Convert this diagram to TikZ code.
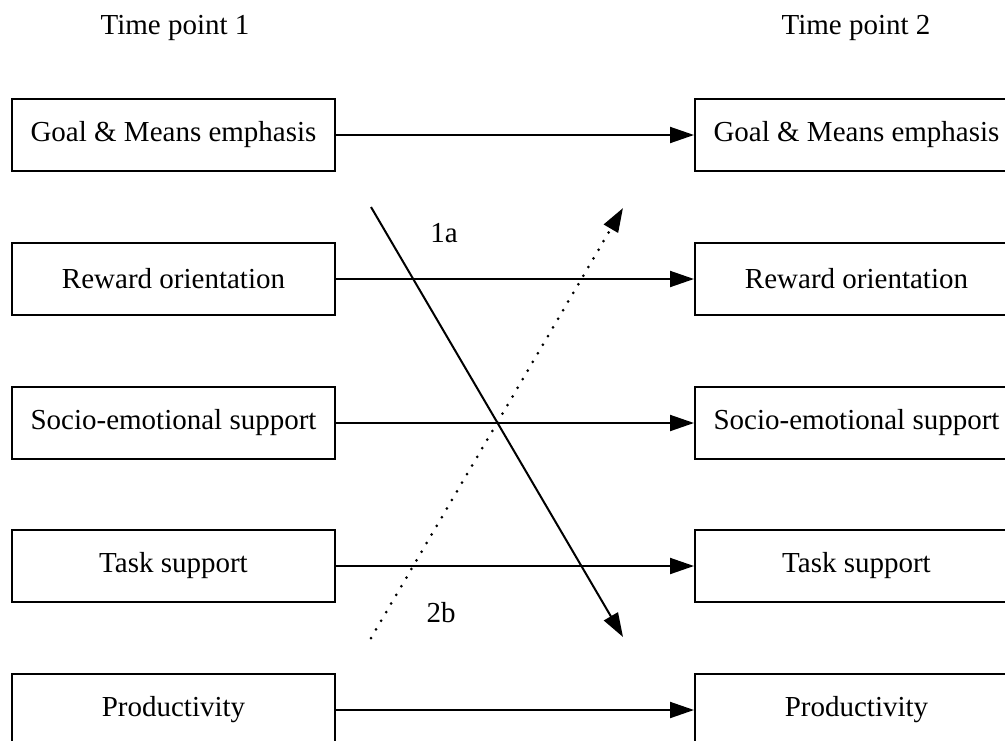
\documentclass[tikz,border=0pt]{standalone}
\usepackage{fontspec}
\setmainfont{Liberation Serif}
\usetikzlibrary{arrows.meta}
\begin{document}
\begin{tikzpicture}[x=1pt,y=-1pt,
  box/.style={draw,line width=2pt,minimum width=323pt,minimum height=72pt,inner sep=0pt,font=\fontsize{29}{34}\selectfont},
  lbl/.style={font=\fontsize{29}{34}\selectfont},
  arr/.style={line width=2pt,-{Triangle[length=24pt,width=16pt]}},
  dotarr/.style={line width=3pt,line cap=round,dash pattern=on 0pt off 10pt,-{Triangle[length=24pt,width=16pt]}}]
\useasboundingbox (0,0) rectangle (1005,740);
\node[lbl] (t1) at (175,28) {Time point 1};
\node[lbl] (t2) at (856,28) {Time point 2};
\foreach \n/\t/\y in {g/Goal \& Means emphasis/135, r/Reward orientation/279, s/Socio-emotional support/423, k/Task support/566, p/Productivity/710}{
  \node[box] (\n L) at (173.5,\y) {\t};
  \node[box] (\n R) at (856.5,\y) {\t};
  \draw[arr] (\n L.east) -- (\n R.west);
}
\coordinate (a1) at (371,207);
\coordinate (a2) at (623,637);
\coordinate (b1) at (371,638);
\coordinate (b2) at (623,208);
\draw[arr] (a1) -- (a2);
\draw[dotarr] (b1) -- (b2);
\node[lbl] (l1) at (444,233) {1a};
\node[lbl] (l2) at (441,613) {2b};
\end{tikzpicture}
\end{document}
